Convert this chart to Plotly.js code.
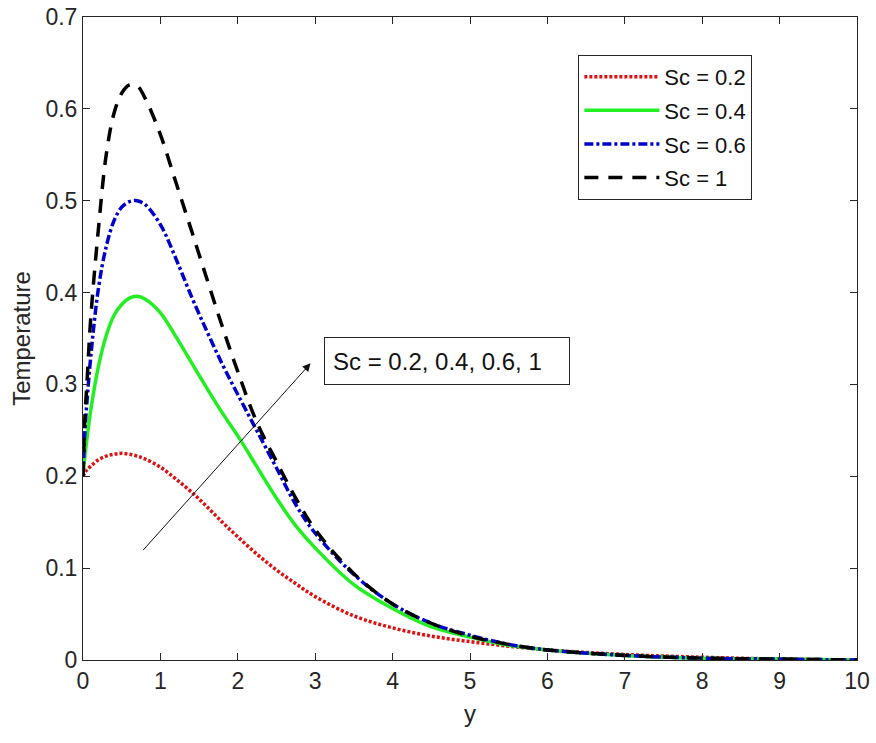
<!DOCTYPE html>
<html>
<head>
<meta charset="utf-8">
<script src="https://cdn.plot.ly/plotly-3.0.1.min.js"></script>
<style>html,body{margin:0;padding:0;background:#fff;}#chart{width:876px;height:743px;}</style>
</head>
<body>
<div id="chart"></div>
<script>
const yPos = [0, 0.025, 0.05, 0.1, 0.2, 0.3, 0.4, 0.5, 0.6, 0.7, 0.8, 1.0, 1.2, 1.4, 1.6, 1.8, 2.0, 2.25, 2.5, 2.75, 3.0, 3.5, 4.0, 4.5, 5.0, 5.5, 6.0, 7.0, 8.0, 9.0, 10.0];
const sc02 = [0.200, 0.204, 0.207, 0.211, 0.218, 0.222, 0.224, 0.225, 0.224, 0.222, 0.219, 0.210, 0.197, 0.183, 0.167, 0.150, 0.134, 0.115, 0.098, 0.083, 0.069, 0.048, 0.035, 0.026, 0.020, 0.015, 0.011, 0.006, 0.003, 0.001, 0.000];
const sc04 = [0.200, 0.222, 0.240, 0.272, 0.320, 0.353, 0.375, 0.387, 0.394, 0.396, 0.393, 0.378, 0.352, 0.324, 0.296, 0.269, 0.244, 0.210, 0.176, 0.146, 0.122, 0.082, 0.056, 0.036, 0.025, 0.016, 0.011, 0.005, 0.002, 0.001, 0.000];
const sc06 = [0.200, 0.250, 0.280, 0.330, 0.405, 0.450, 0.478, 0.493, 0.499, 0.500, 0.496, 0.474, 0.437, 0.396, 0.358, 0.322, 0.289, 0.249, 0.209, 0.169, 0.138, 0.093, 0.061, 0.040, 0.027, 0.017, 0.011, 0.005, 0.002, 0.001, 0.000];
const sc10 = [0.200, 0.265, 0.300, 0.372, 0.470, 0.550, 0.595, 0.617, 0.626, 0.625, 0.612, 0.572, 0.520, 0.468, 0.415, 0.363, 0.314, 0.258, 0.216, 0.176, 0.142, 0.094, 0.061, 0.040, 0.026, 0.017, 0.011, 0.005, 0.002, 0.001, 0.000];
const seriesNames = ['Sc = 0.2', 'Sc = 0.4', 'Sc = 0.6', 'Sc = 1'];
const xTicks = [0,1,2,3,4,5,6,7,8,9,10];
const yTicks = [0,0.1,0.2,0.3,0.4,0.5,0.6,0.7];
const annotationText = 'Sc = 0.2, 0.4, 0.6, 1';

const FONT = 'Liberation Sans, Arial, sans-serif';
const traces = [
  {x: yPos, y: sc02, name: seriesNames[0], legendgroup: 'a', mode: 'lines', line: {color: '#dd1111', width: 3.5, dash: '3px,2px', shape: 'spline'}},
  {x: yPos, y: sc04, name: seriesNames[1], legendgroup: 'b', mode: 'lines', line: {color: '#22ee22', width: 3.5, dash: 'solid', shape: 'spline'}},
  {x: yPos, y: sc06, name: seriesNames[2], legendgroup: 'c', mode: 'lines', line: {color: '#0000cc', width: 3.5, dash: '9px,3px,3px,3px', shape: 'spline'}},
  {x: yPos, y: sc10, name: seriesNames[3], legendgroup: 'd', mode: 'lines', line: {color: '#000000', width: 3.5, dash: '14px,10px', shape: 'spline'}}
];

const axisCommon = {
  showgrid: false, zeroline: false, showline: true, linecolor: '#262626', linewidth: 1,
  mirror: 'ticks', ticks: 'inside', ticklen: 7, tickcolor: '#262626',
  tickfont: {family: FONT, size: 23, color: '#262626'}
};

const layout = {
  width: 876, height: 743,
  margin: {l: 83, r: 19, t: 17, b: 83},
  paper_bgcolor: '#ffffff', plot_bgcolor: '#ffffff',
  showlegend: true,
  legend: {
    x: 0.64, y: 0.941, xanchor: 'left', yanchor: 'top',
    bordercolor: '#262626', borderwidth: 1, bgcolor: '#ffffff',
    font: {family: FONT, size: 22, color: '#111111'},
    tracegroupgap: 2, itemwidth: 75
  },
  xaxis: Object.assign({}, axisCommon, {
    range: [0, 10], tickvals: xTicks, ticktext: xTicks.map(String),
    title: {text: 'y', font: {family: FONT, size: 24, color: '#262626'}, standoff: 12}
  }),
  yaxis: Object.assign({}, axisCommon, {
    range: [0, 0.7], tickvals: yTicks, ticktext: yTicks.map(v => v === 0 ? '0' : v.toFixed(1)),
    title: {text: 'Temperature', font: {family: FONT, size: 24, color: '#262626'}, standoff: 8}
  }),
  annotations: [
    {x: 2.94, y: 0.323, ax: 0.76, ay: 0.118, xref: 'x', yref: 'y', axref: 'x', ayref: 'y',
     text: '', showarrow: true, arrowhead: 2, arrowsize: 1.6, arrowwidth: 1, arrowcolor: '#111111'},
    {x: 4.7, y: 0.326, xref: 'x', yref: 'y', text: annotationText, showarrow: false,
     font: {family: FONT, size: 24, color: '#111111'}, bordercolor: '#262626', borderwidth: 1,
     borderpad: 8, bgcolor: '#ffffff', width: 228, height: 30, align: 'left'}
  ]
};

Plotly.newPlot('chart', traces, layout, {displayModeBar: false, staticPlot: true});
</script>
</body>
</html>
